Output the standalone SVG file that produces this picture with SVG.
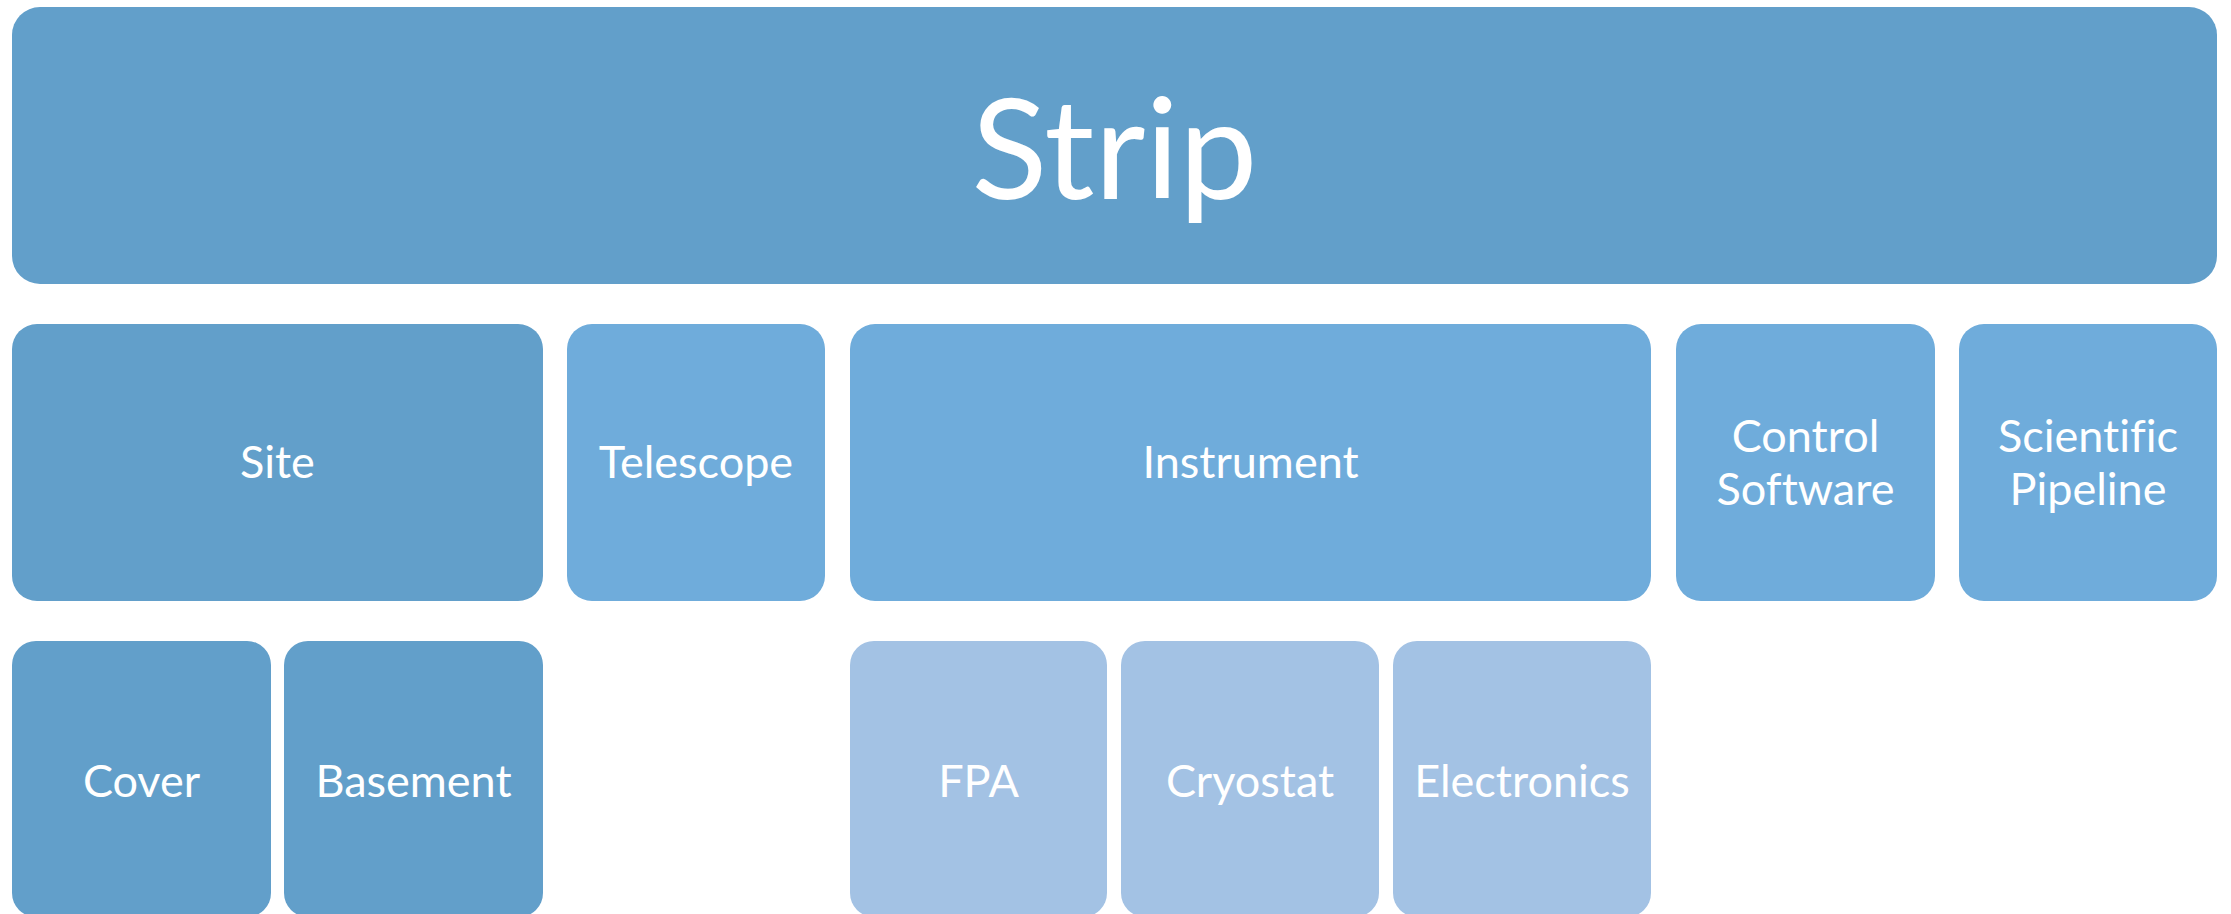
<svg xmlns="http://www.w3.org/2000/svg" width="2231" height="914" viewBox="0 0 2231 914">
  <style>
    .lvl0 { fill: #629fca; }
    .lvl1 { fill: #6facdb; }
    .lvl1d { fill: #629fca; }
    .lvl2 { fill: #a3c2e4; }
    .lvl2d { fill: #629fca; }
    text { font-family: Lato, "Open Sans", "Liberation Sans", sans-serif; fill: #ffffff; text-anchor: middle; font-variant-ligatures: none; }
    .t0 { font-size: 140px; }
    .t1 { font-size: 45px; }
  </style>
  <rect width="2231" height="914" fill="#ffffff"/>

  <!-- root -->
  <g id="strip">
    <rect class="lvl0" x="12" y="7" width="2205" height="277" rx="28"/>
    <text class="t0" x="1114.5" y="199">Strip</text>
  </g>

  <!-- second level -->
  <g id="site">
    <rect class="lvl1d" x="12" y="324" width="531" height="277" rx="25"/>
    <text class="t1" x="277.5" y="478">Site</text>
  </g>
  <g id="telescope">
    <rect class="lvl1" x="567" y="324" width="258" height="277" rx="25"/>
    <text class="t1" x="696" y="478">Telescope</text>
  </g>
  <g id="instrument">
    <rect class="lvl1" x="850" y="324" width="801" height="277" rx="25"/>
    <text class="t1" x="1250.5" y="478">Instrument</text>
  </g>
  <g id="control-software">
    <rect class="lvl1" x="1676" y="324" width="259" height="277" rx="25"/>
    <text class="t1" x="1805.5" y="452">Control</text>
    <text class="t1" x="1805.5" y="505">Software</text>
  </g>
  <g id="scientific-pipeline">
    <rect class="lvl1" x="1959" y="324" width="258" height="277" rx="25"/>
    <text class="t1" x="2088" y="452">Scientific</text>
    <text class="t1" x="2088" y="505">Pipeline</text>
  </g>

  <!-- third level -->
  <g id="cover">
    <rect class="lvl2d" x="12" y="641" width="259" height="276" rx="24"/>
    <text class="t1" x="141.5" y="797">Cover</text>
  </g>
  <g id="basement">
    <rect class="lvl2d" x="284" y="641" width="259" height="276" rx="24"/>
    <text class="t1" x="413.5" y="797">Basement</text>
  </g>
  <g id="fpa">
    <rect class="lvl2" x="850" y="641" width="257" height="276" rx="24"/>
    <text class="t1" x="978.5" y="797">FPA</text>
  </g>
  <g id="cryostat">
    <rect class="lvl2" x="1121" y="641" width="258" height="276" rx="24"/>
    <text class="t1" x="1250" y="797">Cryostat</text>
  </g>
  <g id="electronics">
    <rect class="lvl2" x="1393" y="641" width="258" height="276" rx="24"/>
    <text class="t1" x="1522" y="797">Electronics</text>
  </g>
</svg>
